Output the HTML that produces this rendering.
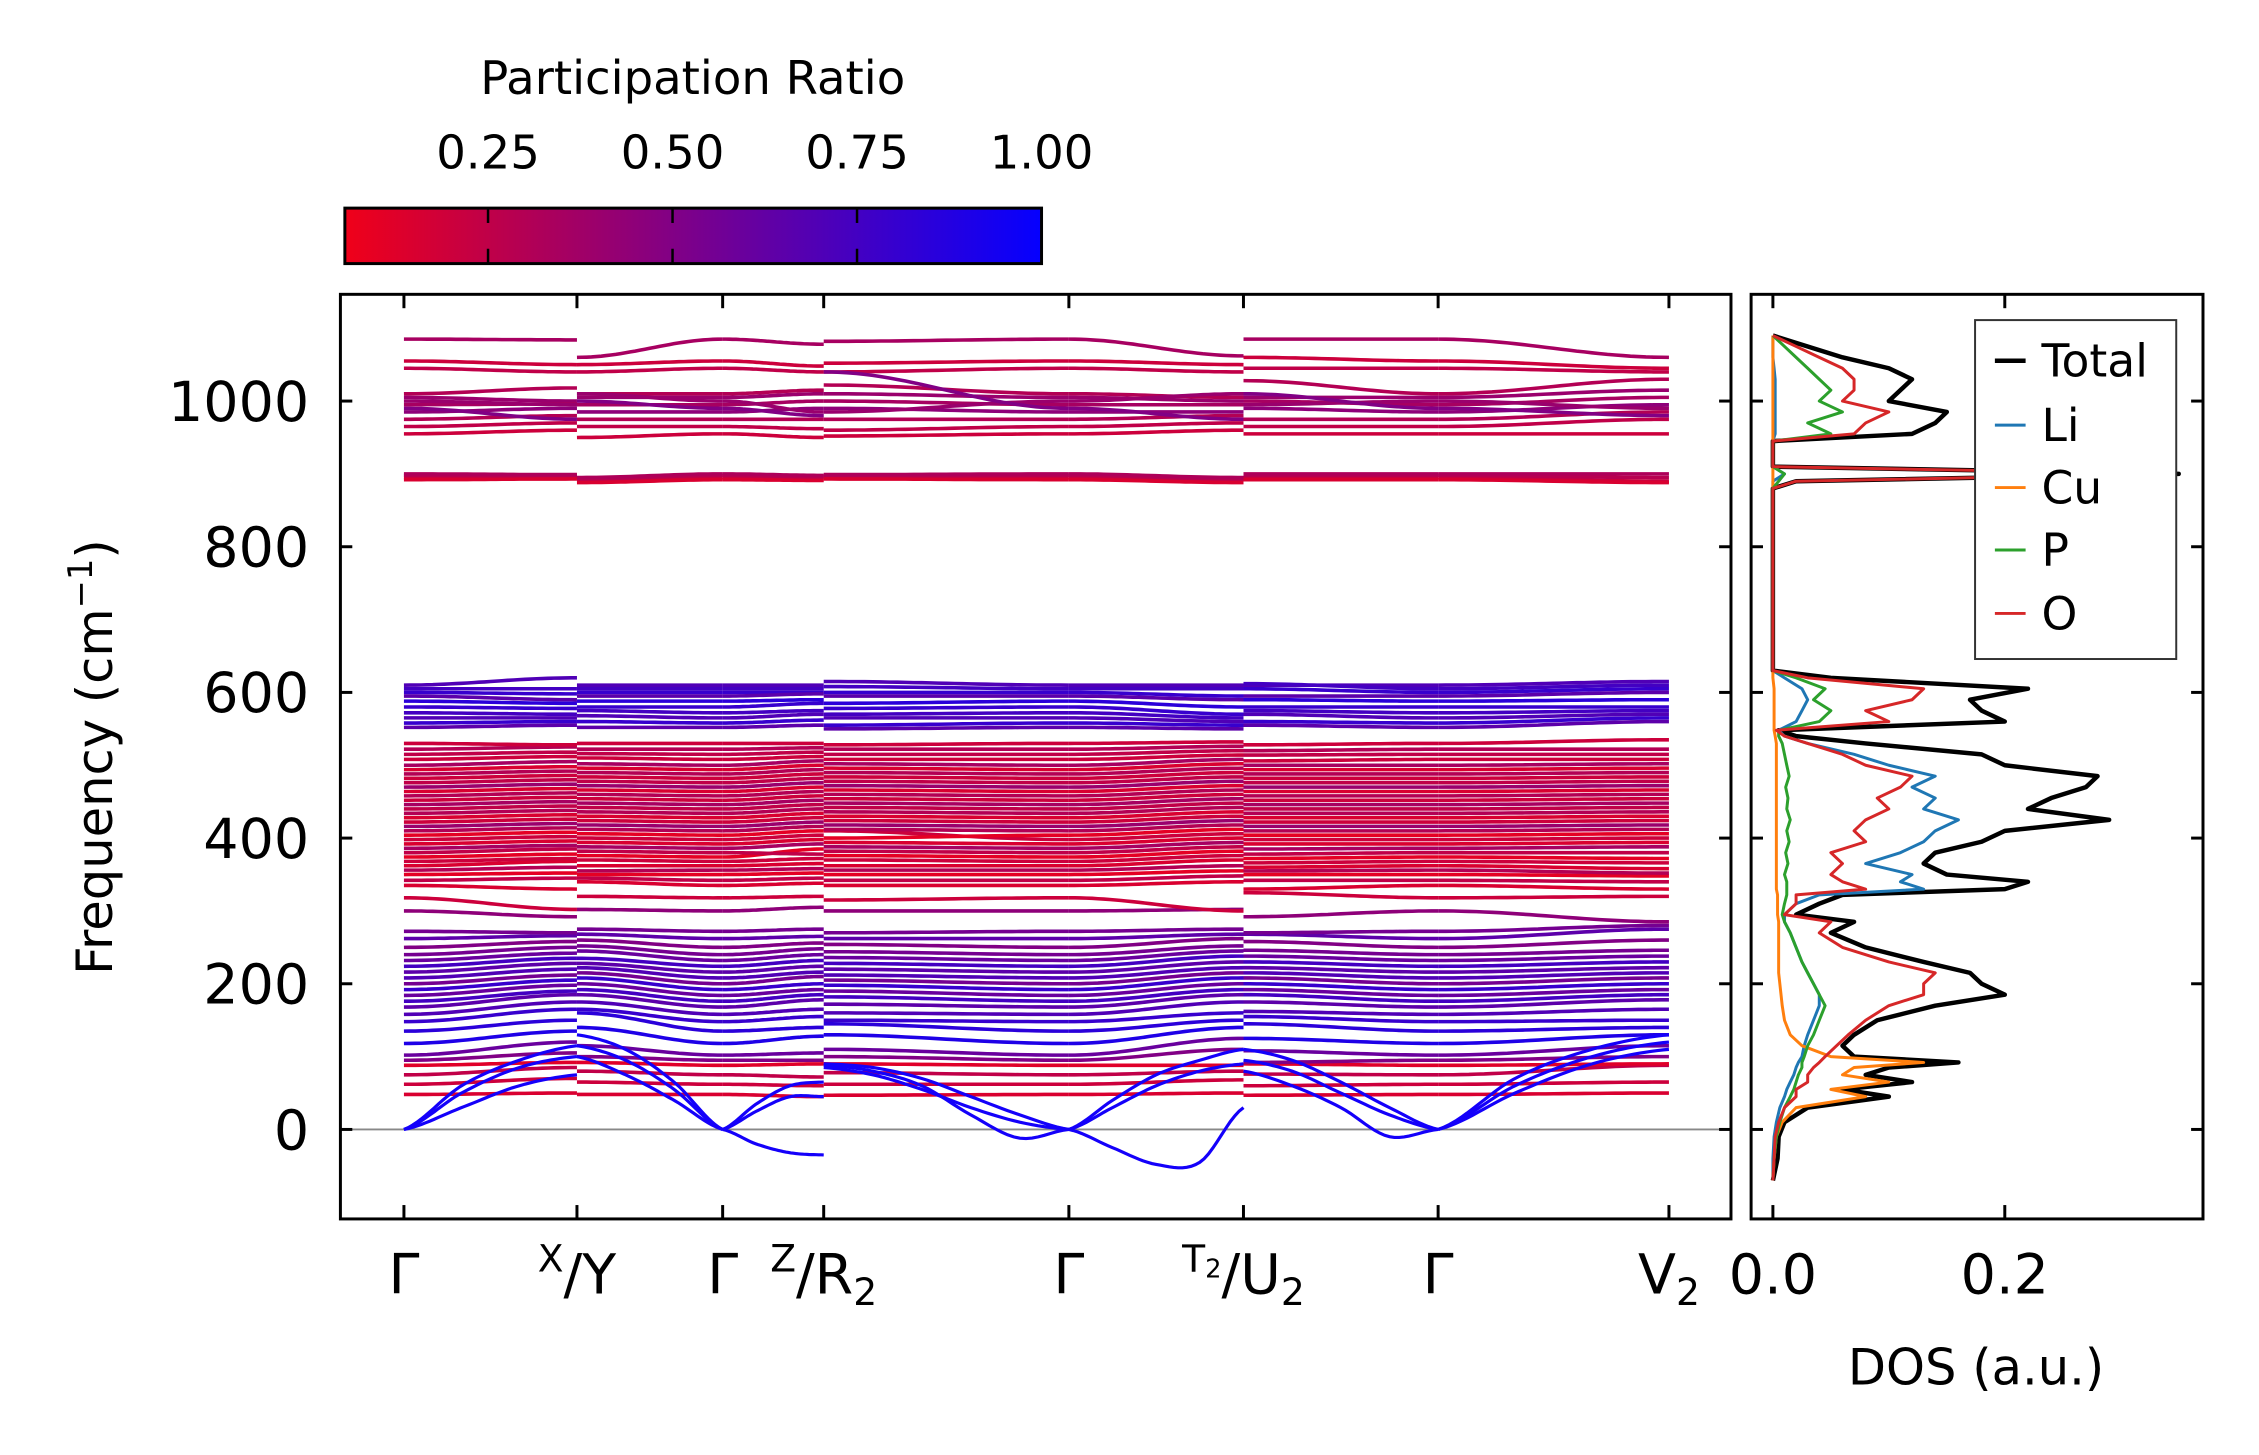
<!DOCTYPE html>
<html><head><meta charset="utf-8">
<style>
html,body{margin:0;padding:0;background:#fff;}
svg{display:block;font-family:"DejaVu Sans","Liberation Sans",sans-serif;}
</style></head>
<body>
<svg id="fig" width="2259" height="1455" viewBox="0 0 2259 1455" xmlns="http://www.w3.org/2000/svg">
<defs>
<linearGradient id="cmap" x1="0" x2="1" y1="0" y2="0">
<stop offset="0" stop-color="rgb(240,0,25)"/><stop offset="1" stop-color="rgb(5,0,255)"/>
</linearGradient>
<clipPath id="clipMain"><rect x="343.5" y="297" width="1403.2" height="933"/></clipPath>
<clipPath id="clipDos"><rect x="1767" y="297" width="456" height="933"/></clipPath>
</defs>
<g transform="scale(0.991)">
<g id="colorbar">
<text x="699" y="95" font-size="47" text-anchor="middle">Participation Ratio</text>
<rect x="348" y="210" width="703" height="56" fill="url(#cmap)" stroke="#000" stroke-width="3"/>
</g>
<g id="bandsLayer" clip-path="url(#clipMain)"></g>
<g id="dosLayer" clip-path="url(#clipDos)"></g>
<g id="axesLayer"></g>
</g>
</svg>
<script>
// ---- band structure data ----
const kLabels = ['Γ','X/Y','Γ','Z/R2','Γ','T2/U2','Γ','V2'];
const kPos = [0, 1, 1.842, 2.426, 3.843, 4.852, 5.977, 7.311];
// rows: [PR, Γ, X, Y, Z, R2, T2, U2, V2]
const bandsTop = [
[0.35,1085,1084,1060,1078,1082,1062,1085,1060],
[0.2,1055,1050,1050,1048,1052,1050,1060,1045],
[0.25,1045,1040,1040,1040,1040,1040,1045,1040],
[0.3,1010,1018,1010,1015,1022,1005,1028,1030],
[0.4,1005,1000,1005,1010,1010,1000,1005,1015],
[0.35,995,996,995,1000,1000,995,1000,1005],
[0.45,985,990,985,990,990,985,990,995],
[0.3,975,980,975,975,975,980,975,985],
[0.25,965,970,965,962,960,970,965,975],
[0.2,955,960,950,950,952,960,955,955],
[0.4,1000,995,1010,985,985,1010,995,990],
[0.5,990,975,1000,980,1040,975,1010,980]
];
const bandsMid = [
[0.2,895,895,890,893,895,890,895,890],[0.28,898,897,893,896,897,893,898,895],
[0.15,892,893,888,891,893,888,892,888],[0.32,900,899,895,898,899,895,900,900],
[0.7,610,620,610,610,615,610,610,615],[0.75,605,605,605,605,608,605,612,610],
[0.8,600,598,600,600,600,595,605,605],[0.65,595,590,595,598,595,590,595,600],
[0.85,588,585,588,590,585,580,590,590],[0.8,580,578,580,585,578,570,580,580],
[0.75,572,570,575,575,570,565,575,575],[0.7,565,565,568,570,565,560,570,570],
[0.8,558,560,560,562,555,555,560,565],[0.65,552,555,552,555,550,550,555,560]
];
const bandsRed = [
[0.2,318,302,320,320,315,300,325,320],[0.15,335,330,340,338,335,340,330,330],
[0.25,342,345,345,345,342,348,342,340],[0.1,350,352,350,352,350,355,350,348],
[0.3,356,360,355,358,356,362,355,352],[0.15,362,368,362,365,362,370,360,358],
[0.2,368,372,370,372,370,376,366,366],[0.1,374,378,376,385,376,382,372,372],
[0.25,380,385,382,378,382,388,378,380],[0.35,386,390,388,392,388,394,385,388],
[0.15,392,396,394,398,394,400,392,394],[0.2,398,402,400,404,410,406,398,400],
[0.1,404,408,406,410,400,412,404,406],[0.3,410,414,412,416,412,418,410,412],
[0.4,416,420,418,422,418,424,416,418],[0.2,422,426,424,428,424,430,422,424],
[0.15,428,432,430,434,430,436,428,430],[0.3,434,438,436,440,436,442,434,436],
[0.25,440,444,442,446,442,448,440,442],[0.35,446,450,448,452,448,454,446,448],
[0.2,452,456,454,458,454,460,452,454],[0.3,458,462,460,464,460,466,458,460],
[0.15,464,468,466,470,466,472,464,466],[0.4,470,474,472,476,472,478,470,472],
[0.25,476,480,478,482,478,484,476,478],[0.2,482,486,484,488,484,490,482,484],
[0.3,488,492,490,494,490,496,488,490],[0.15,494,498,496,500,496,502,494,496],
[0.35,500,505,502,506,502,508,500,502],[0.2,508,512,510,512,508,514,506,508],
[0.25,515,518,516,518,515,520,514,515],[0.3,522,525,522,524,522,526,520,522],
[0.2,530,528,530,530,528,532,528,535]
];
const bandsLow = [
[0.15,48,50,48,45,47,50,47,50],[0.2,62,70,65,60,62,68,60,65],
[0.25,75,85,80,72,78,80,76,88],[0.12,88,92,92,90,90,88,90,90],
[0.5,95,105,100,95,100,110,92,100],[0.6,102,120,115,105,110,125,108,115],
[0.9,118,135,140,128,130,140,125,130],[0.85,135,150,160,140,145,150,145,140],
[0.8,148,165,165,155,150,160,155,150],[0.7,158,175,175,165,160,175,162,165],
[0.65,168,185,185,178,172,185,175,178],[0.75,176,190,192,185,182,192,185,185],
[0.6,184,198,200,192,190,200,192,192],[0.8,192,205,208,200,198,208,200,200],
[0.55,200,212,215,210,205,215,208,208],[0.7,208,220,222,216,212,222,215,215],
[0.65,216,228,228,224,220,230,222,222],[0.75,224,235,235,232,228,238,230,230],
[0.6,232,242,245,240,236,245,238,238],[0.55,240,250,252,248,244,252,246,246],
[0.5,250,258,260,256,254,262,258,260],[0.65,262,266,268,265,262,268,268,275],
[0.55,272,270,275,275,270,275,270,280],[0.45,300,292,302,305,300,302,292,285]
];
// acoustic branches: evenly spaced samples along each of the 7 segments
const acoustic = [
[[0,30,60,75],[100,75,40,0],[0,-20,-32,-35],[88,80,60,20,-12,0],[0,-25,-48,-45,30],[80,60,30,-10,0],[0,50,90,110]],
[[0,50,85,100],[115,95,55,0],[0,25,45,45],[85,75,55,30,10,0],[0,30,60,80,90],[95,80,50,20,0],[0,60,100,120]],
[[0,60,95,115],[130,110,65,0],[0,35,60,65],[90,85,70,45,20,0],[0,40,75,95,110],[110,95,65,30,0],[0,70,110,130]]
];
// ---- DOS data ----
const dosFreq = [-70,-40,-10,10,30,45,55,65,75,85,92,100,115,130,150,170,185,200,215,230,250,270,285,295,310,322,330,340,350,365,380,395,410,425,440,455,470,485,500,515,530,540,548,560,575,590,605,620,630,880,890,900,910,945,955,970,985,1000,1015,1030,1045,1060,1075,1090];
const dosTotal = [0,0.004,0.005,0.01,0.03,0.1,0.06,0.12,0.08,0.1,0.16,0.07,0.06,0.07,0.09,0.14,0.2,0.18,0.17,0.13,0.08,0.05,0.07,0.02,0.04,0.06,0.2,0.22,0.15,0.13,0.14,0.18,0.2,0.29,0.22,0.24,0.27,0.28,0.2,0.18,0.08,0.02,0.005,0.2,0.18,0.17,0.22,0.05,0,0,0.02,0.35,0,0,0.12,0.14,0.15,0.1,0.11,0.12,0.1,0.06,0.03,0];
const dosLi = [0,0,0.001,0.003,0.006,0.01,0.012,0.015,0.018,0.02,0.022,0.025,0.027,0.03,0.035,0.04,0.04,0.035,0.03,0.025,0.02,0.015,0.01,0.01,0.02,0.04,0.13,0.11,0.12,0.08,0.11,0.13,0.14,0.16,0.13,0.14,0.12,0.14,0.1,0.07,0.03,0.01,0.005,0.02,0.025,0.03,0.025,0.01,0,0,0,0.01,0,0,0.002,0.002,0.002,0.002,0.002,0.002,0.001,0,0,0];
const dosCu = [0,0.001,0.003,0.008,0.02,0.08,0.05,0.1,0.06,0.07,0.13,0.05,0.025,0.015,0.01,0.008,0.007,0.006,0.005,0.005,0.005,0.005,0.005,0.004,0.004,0.004,0.003,0.003,0.003,0.003,0.003,0.003,0.003,0.003,0.003,0.003,0.003,0.003,0.003,0.003,0.003,0.002,0.001,0.001,0.001,0.001,0.001,0,0,0,0,0,0,0,0,0,0,0,0,0,0,0,0,0];
const dosP = [0,0.001,0.003,0.006,0.01,0.015,0.018,0.02,0.022,0.025,0.025,0.027,0.03,0.035,0.04,0.045,0.04,0.035,0.03,0.025,0.02,0.015,0.01,0.008,0.01,0.012,0.012,0.012,0.01,0.013,0.011,0.014,0.012,0.015,0.012,0.013,0.011,0.014,0.012,0.01,0.008,0.005,0.005,0.04,0.05,0.035,0.045,0.02,0,0,0.005,0.01,0,0,0.05,0.03,0.06,0.04,0.05,0.04,0.03,0.02,0.01,0];
const dosO = [0,0.001,0.002,0.005,0.01,0.02,0.02,0.03,0.03,0.035,0.04,0.045,0.055,0.065,0.08,0.1,0.13,0.13,0.14,0.1,0.06,0.04,0.05,0.01,0.02,0.02,0.08,0.06,0.05,0.06,0.05,0.08,0.07,0.08,0.1,0.09,0.11,0.12,0.08,0.06,0.03,0.01,0.003,0.1,0.08,0.12,0.13,0.03,0,0,0.02,0.34,0,0,0.07,0.08,0.1,0.06,0.07,0.07,0.06,0.04,0.02,0];
const yTicks = [0,200,400,600,800,1000];
const dosTicks = [0.0,0.2];
const cbTicks = [0.25,0.5,0.75,1.0];

// ---- scales ----
const NS='http://www.w3.org/2000/svg';
const MAIN={x0:343.5,x1:1746.7,y0:297,y1:1230};
const DOS={x0:1767,x1:2223};
const fy = f => 1139.7 - f*0.735;
const kx = k => 407.6 + k*174.6;
const dx = v => 1789 + v*1170;
const cbx = v => 348 + (v-0.056)/(1-0.056)*703;
function prColor(p){const t=Math.max(0,Math.min(1,(p-0.056)/(1-0.056)));
 return 'rgb('+Math.round(240+(5-240)*t)+',0,'+Math.round(25+(255-25)*t)+')';}
function el(tag,attrs,parent){const e=document.createElementNS(NS,tag);for(const a in attrs)e.setAttribute(a,attrs[a]);if(parent)parent.appendChild(e);return e;}

const bandsLayer=document.getElementById('bandsLayer');
const dosLayer=document.getElementById('dosLayer');
const axesLayer=document.getElementById('axesLayer');

const zl=el('line',{x1:MAIN.x0,x2:MAIN.x1,y1:fy(0),y2:fy(0),stroke:'#888','stroke-width':2},bandsLayer);



const segDefs=[[1,2,0,1],[3,1,1,2],[1,4,2,3],[5,1,3,4],[1,6,4,5],[7,1,5,6],[1,8,6,7]];
function drawBand(row,name){
 const col=prColor(row[0]);
 segDefs.forEach((s,si)=>{
  const a=row[s[0]],b=row[s[1]],xa=kPos[s[2]],xb=kPos[s[3]];
  let pts=[];
  for(let i=0;i<=30;i++){const t=i/30;const w=(1-Math.cos(Math.PI*t))/2;
   pts.push(kx(xa+(xb-xa)*t).toFixed(1)+','+fy(a+(b-a)*w).toFixed(1));}
  const p=el('polyline',{points:pts.join(' '),fill:'none',stroke:col,'stroke-width':3.6},bandsLayer);
  
  
 });
}
[bandsLow,bandsRed,bandsMid,bandsTop].forEach((grp,gi)=>grp.forEach((row,ri)=>drawBand(row,'band-g'+gi+'-'+ri)));

function catmull(vals,n){const out=[];const m=vals.length-1;
 for(let i=0;i<=n;i++){const u=i/n*m;let j=Math.min(Math.floor(u),m-1);const t=u-j;
  const p0=vals[Math.max(j-1,0)],p1=vals[j],p2=vals[j+1],p3=vals[Math.min(j+2,m)];
  out.push(0.5*((2*p1)+(-p0+p2)*t+(2*p0-5*p1+4*p2-p3)*t*t+(-p0+3*p1-3*p2+p3)*t*t*t));}
 return out;}
acoustic.forEach((br,bi)=>{
 br.forEach((vals,si)=>{
  const xa=kPos[si],xb=kPos[si+1];const ys=catmull(vals,40);
  const pts=ys.map((v,i)=>kx(xa+(xb-xa)*i/40).toFixed(1)+','+fy(v).toFixed(1));
  const p=el('polyline',{points:pts.join(' '),fill:'none',stroke:'rgb(20,0,250)','stroke-width':3.2},bandsLayer);
  
  
 });
});

const dosSeries=[['dos-total',dosTotal,'#000',4.5],['dos-li',dosLi,'#1f77b4',3],['dos-cu',dosCu,'#ff7f0e',3],['dos-p',dosP,'#2ca02c',3],['dos-o',dosO,'#d62728',3]];
dosSeries.forEach(s=>{
 const n=Math.min(dosFreq.length,s[1].length);const pts=[];
 for(let i=0;i<n;i++)pts.push(dx(s[1][i]).toFixed(1)+','+fy(dosFreq[i]).toFixed(1));
 const p=el('polyline',{points:pts.join(' '),fill:'none',stroke:s[2],'stroke-width':s[3],'stroke-linejoin':'round'},dosLayer);
 
 
});

const fm=el('rect',{x:MAIN.x0,y:MAIN.y0,width:MAIN.x1-MAIN.x0,height:MAIN.y1-MAIN.y0,fill:'none',stroke:'#000','stroke-width':3},axesLayer);


const fd=el('rect',{x:DOS.x0,y:MAIN.y0,width:DOS.x1-DOS.x0,height:MAIN.y1-MAIN.y0,fill:'none',stroke:'#000','stroke-width':3},axesLayer);



yTicks.forEach(v=>{const y=fy(v);
 [[MAIN.x0,MAIN.x0+12],[MAIN.x1-12,MAIN.x1],[DOS.x0,DOS.x0+12],[DOS.x1-12,DOS.x1]].forEach(p=>{
  const t=el('line',{x1:p[0],x2:p[1],y1:y,y2:y,stroke:'#000','stroke-width':3},axesLayer);
  
  });
 const tx=el('text',{x:312,y:y+20,'font-size':56,'text-anchor':'end'},axesLayer);tx.textContent=v;
 
 
});
kPos.forEach(k=>{const x=kx(k);
 [[MAIN.y0,MAIN.y0+14],[MAIN.y1-14,MAIN.y1]].forEach(p=>{
  const t=el('line',{x1:x,x2:x,y1:p[0],y2:p[1],stroke:'#000','stroke-width':3},axesLayer);
  
  });
});
function kLabel(k,html,name){const t=el('text',{x:kx(k),y:1305,'font-size':56,'text-anchor':'middle'},axesLayer);
 t.innerHTML=html;
 
 }
kLabel(kPos[0],'Γ','k-label-gamma-1');
kLabel(kPos[1],'<tspan font-size="38" dy="-22">X</tspan><tspan dy="22">/Y</tspan>','k-label-x-y');
kLabel(kPos[2],'Γ','k-label-gamma-2');
kLabel(kPos[3],'<tspan font-size="38" dy="-22">Z</tspan><tspan dy="22">/R</tspan><tspan font-size="38" dy="12">2</tspan>','k-label-z-r2');
kLabel(kPos[4],'Γ','k-label-gamma-3');
kLabel(kPos[5],'<tspan font-size="38" dy="-22">T</tspan><tspan font-size="26" dy="6">2</tspan><tspan dy="16">/U</tspan><tspan font-size="38" dy="12">2</tspan>','k-label-t2-u2');
kLabel(kPos[6],'Γ','k-label-gamma-4');
kLabel(kPos[7],'V<tspan font-size="38" dy="12">2</tspan>','k-label-v2');
dosTicks.forEach(v=>{const x=dx(v);
 [[MAIN.y0,MAIN.y0+14],[MAIN.y1-14,MAIN.y1]].forEach(p=>{
  const t=el('line',{x1:x,x2:x,y1:p[0],y2:p[1],stroke:'#000','stroke-width':3},axesLayer);
  
  });
 const tx=el('text',{x:x,y:1305,'font-size':56,'text-anchor':'middle'},axesLayer);tx.textContent=v.toFixed(1);
 
 
});
cbTicks.forEach(v=>{const x=cbx(v);
 if(v<1){[[210,225],[251,266]].forEach(p=>{
  const t=el('line',{x1:x,x2:x,y1:p[0],y2:p[1],stroke:'#000','stroke-width':2.5},axesLayer);
  
  });}
 const tx=el('text',{x:x,y:170,'font-size':47,'text-anchor':'middle'},axesLayer);tx.textContent=v.toFixed(2);
 
 
});
const yl=el('text',{x:0,y:0,'font-size':50,'text-anchor':'middle',transform:'translate(113,764) rotate(-90)'},axesLayer);
yl.innerHTML='Frequency (cm<tspan font-size="34" dy="-20">−1</tspan><tspan dy="20">)</tspan>';


const xl=el('text',{x:1994,y:1397,'font-size':50,'text-anchor':'middle'},axesLayer);xl.textContent='DOS (a.u.)';


const lg=el('g',{},axesLayer);


const lb=el('rect',{x:1993,y:323,width:203,height:342,fill:'#fff',stroke:'#333','stroke-width':2},lg);


const legNames=['Total','Li','Cu','P','O'];
const legY=[364,429,492,555,619];
dosSeries.forEach((s,i)=>{
 const ln=el('line',{x1:2013,x2:2044,y1:legY[i],y2:legY[i],stroke:s[2],'stroke-width':s[3]},lg);
 
 
 const tx=el('text',{x:2060,y:legY[i]+16,'font-size':46},lg);tx.textContent=legNames[i];
 
 
});
</script>
</body></html>
